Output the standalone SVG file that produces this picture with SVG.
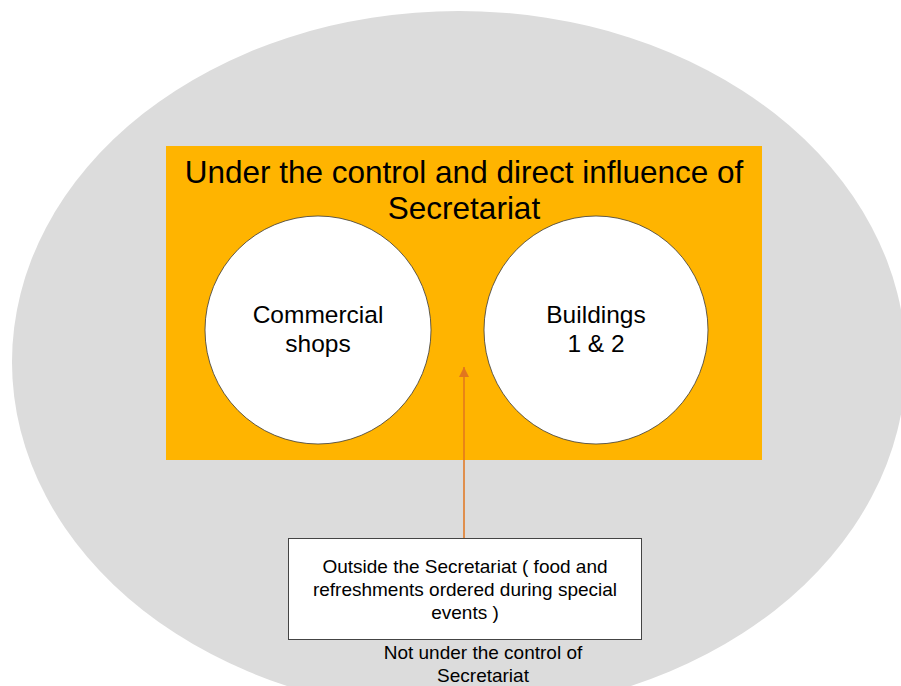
<svg xmlns="http://www.w3.org/2000/svg" width="901" height="686" viewBox="0 0 901 686">
<style>
text{font-family:"Liberation Sans",Arial,sans-serif;fill:#000;text-anchor:middle}
.title{font-size:31.5px}
.lbl{font-size:24.5px}
.small{font-size:19px}
.circ{fill:#fff;stroke:#3a3a3a;stroke-width:0.8}
</style>
<defs>
<marker id="ah" markerWidth="10" markerHeight="10" refX="10" refY="5" orient="auto" markerUnits="userSpaceOnUse" viewBox="0 0 10 10">
<path d="M0,0 L10,5 L0,10 Z" fill="#E2761E"/>
</marker>
</defs>
<g id="outer">
<ellipse cx="459" cy="362" rx="447" ry="351" fill="#DCDCDC"/>
<text class="small" x="483" y="659">Not under the control of</text>
<text class="small" x="483" y="682">Secretariat</text>
</g>
<g id="control-area">
<rect x="166" y="146" width="596" height="314" fill="#FFB400"/>
<text class="title" x="464" y="183">Under the control and direct influence of</text>
<text class="title" x="464" y="219">Secretariat</text>
</g>
<g id="commercial-shops">
<ellipse class="circ" cx="318" cy="330" rx="113" ry="114"/>
<text class="lbl" x="318" y="323">Commercial</text>
<text class="lbl" x="318" y="352">shops</text>
</g>
<g id="buildings">
<ellipse class="circ" cx="596" cy="330" rx="112" ry="114"/>
<text class="lbl" x="596" y="323">Buildings</text>
<text class="lbl" x="596" y="352">1 &amp; 2</text>
</g>
<g id="connectors">
<line x1="464" y1="538" x2="464" y2="367" stroke="#E2761E" stroke-width="1.5" marker-end="url(#ah)"/>
</g>
<g id="outside">
<rect x="288.5" y="538.5" width="353" height="101" fill="#fff" stroke="#444" stroke-width="1"/>
<text class="small" x="465" y="573">Outside the Secretariat ( food and</text>
<text class="small" x="465" y="596">refreshments ordered during special</text>
<text class="small" x="465" y="619">events )</text>
</g>
</svg>
